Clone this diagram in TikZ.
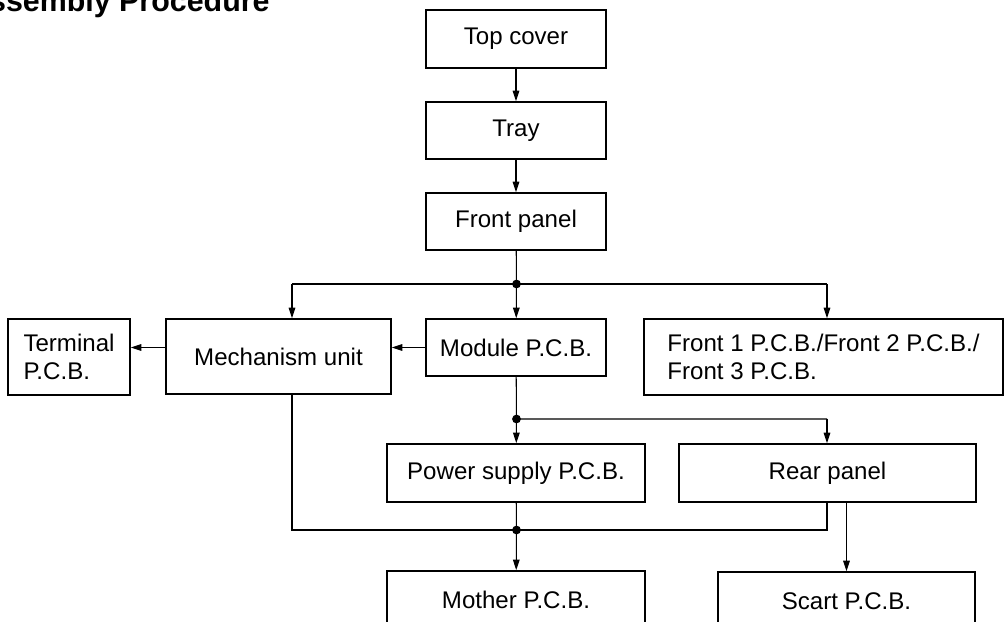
\documentclass[tikz,border=0pt]{standalone}
\usepackage{fontspec}
\setmainfont{Liberation Sans}
\usetikzlibrary{arrows.meta}
\tikzstyle{arrow} = [line width=0.6pt,-{Triangle[length=6pt,width=3.8pt]}]
\tikzstyle{wire} = [line width=0.6pt]
\tikzstyle{blk} = [draw,line width=1pt,minimum height=1.16cm,inner sep=2pt,align=left,font=\fontsize{13.7}{16.2}\selectfont]
\tikzstyle{dot} = [circle,fill,inner sep=0pt,minimum size=5pt]

\begin{document}
\begin{tikzpicture}[x=0.02cm,y=-0.02cm]
		\useasboundingbox (0,0) rectangle (1005,622);
		\clip (0,0) rectangle (1005,622);
		\node[anchor=base west,font=\fontsize{17.3}{20}\selectfont\bfseries] (title) at (-39,11) {Assembly Procedure};
		% main column
		\node[blk,minimum width=3.6cm] (top) at (516,39) {Top cover};
		\node[blk,minimum width=3.6cm,minimum height=1.14cm] (tray) at (516,130.5) {Tray};
		\node[blk,minimum width=3.6cm,minimum height=1.14cm] (fpanel) at (516,221.5) {Front panel};
		\node[blk,minimum width=2.44cm,minimum height=1.52cm] (term) at (69,357) {Terminal\\P.C.B.};
		\node[blk,minimum width=4.5cm,minimum height=1.5cm] (mech) at (278.5,356.5) {Mechanism unit};
		\node[blk,minimum width=3.6cm,minimum height=1.14cm] (module) at (516,347.5) {Module P.C.B.};
		\node[blk,minimum width=7.18cm,minimum height=1.52cm] (front) at (823.5,357) {Front 1 P.C.B./Front 2 P.C.B./\\Front 3 P.C.B.};
		\node[blk,minimum width=5.16cm] (power) at (516,473) {Power supply P.C.B.};
		\node[blk,minimum width=5.94cm] (rear) at (827.5,473) {Rear panel};
		\node[blk,minimum width=5.16cm] (mother) at (516,600) {Mother P.C.B.};
		\node[blk,minimum width=5.14cm] (scart) at (846.5,601) {Scart P.C.B.};
		% junctions
		\coordinate (j1) at (516.5,284);
		\coordinate (m1) at (292,284);
		\coordinate (f1) at (827,284);
		\coordinate (j2) at (516.5,419);
		\coordinate (r1) at (827,419);
		\coordinate (j3) at (516.5,530);
		\draw [arrow] (top) -- (tray);
		\draw [arrow] (tray) -- (fpanel);
		\draw [wire] (fpanel) -- (j1);
		\draw [wire] (m1) -- (f1);
		\draw [arrow] (m1) -- (m1 |- mech.north);
		\draw [arrow] (j1) -- (module);
		\draw [arrow] (f1) -- (f1 |- front.north);
		\draw [arrow] (module.west) -- (module.west -| mech.east);
		\draw [arrow] (mech.west |- module) -- (term.east |- module);
		\draw [wire] (module) -- (j2) -- (r1);
		\draw [arrow] (j2) -- (power);
		\draw [arrow] (r1) -- (r1 |- rear.north);
		\draw [wire] (power) -- (j3);
		\draw [wire] (m1 |- mech.south) -- (m1 |- j3) -- (r1 |- j3) -- (r1 |- rear.south);
		\draw [arrow] (j3) -- (mother);
		\draw [arrow] (scart.north |- rear.south) -- (scart);
		\node[dot] at (j1) {};
		\node[dot] at (j2) {};
		\node[dot] at (j3) {};
	\end{tikzpicture}
\end{document}
